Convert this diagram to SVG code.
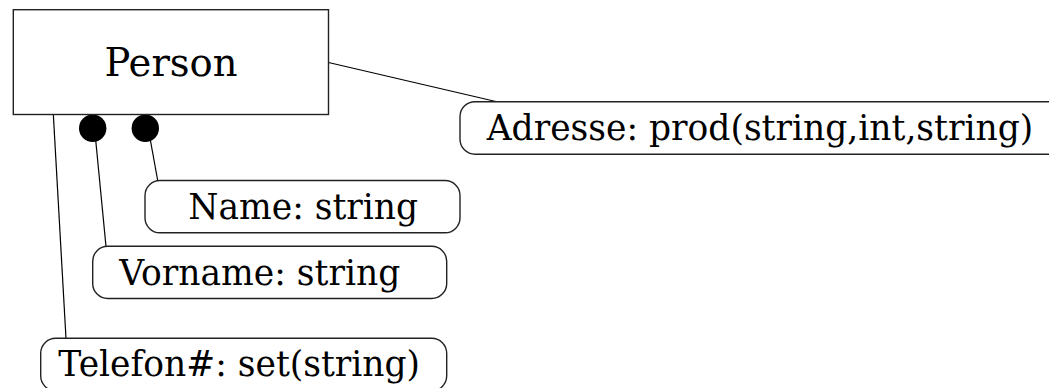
<svg xmlns="http://www.w3.org/2000/svg" width="1049" height="388" viewBox="0 0 1049 388">
<style>
.box{fill:#fff;stroke:#222;stroke-width:1.4}
.attr{fill:#fff;stroke:#222;stroke-width:1.4}
.edge{fill:none;stroke:#000;stroke-width:1.2}
.dot{fill:#000}
text{font-family:"DejaVu Serif",serif;fill:#000}
.t1{font-size:38.5px}
.t2{font-size:34.5px}
</style>
<rect width="1049" height="388" fill="#fff"/>
<g id="connectors">
<line class="edge" x1="53.3" y1="114" x2="66" y2="338.5"/>
<line class="edge" x1="95.5" y1="138" x2="106" y2="246.5"/>
<line class="edge" x1="150" y1="138" x2="157.7" y2="180.5"/>
<line class="edge" x1="328.5" y1="62.5" x2="498" y2="102"/>
<circle class="dot" cx="92.7" cy="128.3" r="13.7"/>
<circle class="dot" cx="145.3" cy="128.3" r="13.7"/>
</g>
<g id="person">
<rect class="box" x="13.3" y="9.7" width="315.2" height="104.8"/>
<text class="t1" x="171" y="76" text-anchor="middle">Person</text>
</g>
<g id="adresse">
<rect class="attr" x="460" y="101.7" width="610" height="52.5" rx="15" ry="15"/>
<text class="t2" x="486.7" y="140">Adresse: prod(string,int,string)</text>
</g>
<g id="name">
<rect class="attr" x="145" y="180.5" width="315" height="52.3" rx="15" ry="15"/>
<text class="t2" x="188.3" y="218.5">Name: string</text>
</g>
<g id="vorname">
<rect class="attr" x="92.7" y="246.3" width="354" height="52.2" rx="15" ry="15"/>
<text class="t2" x="119.3" y="285">Vorname: string</text>
</g>
<g id="telefon">
<rect class="attr" x="40.7" y="338.3" width="406" height="52.5" rx="15" ry="15"/>
<text class="t2" x="58.3" y="376">Telefon#: set(string)</text>
</g>
</svg>
